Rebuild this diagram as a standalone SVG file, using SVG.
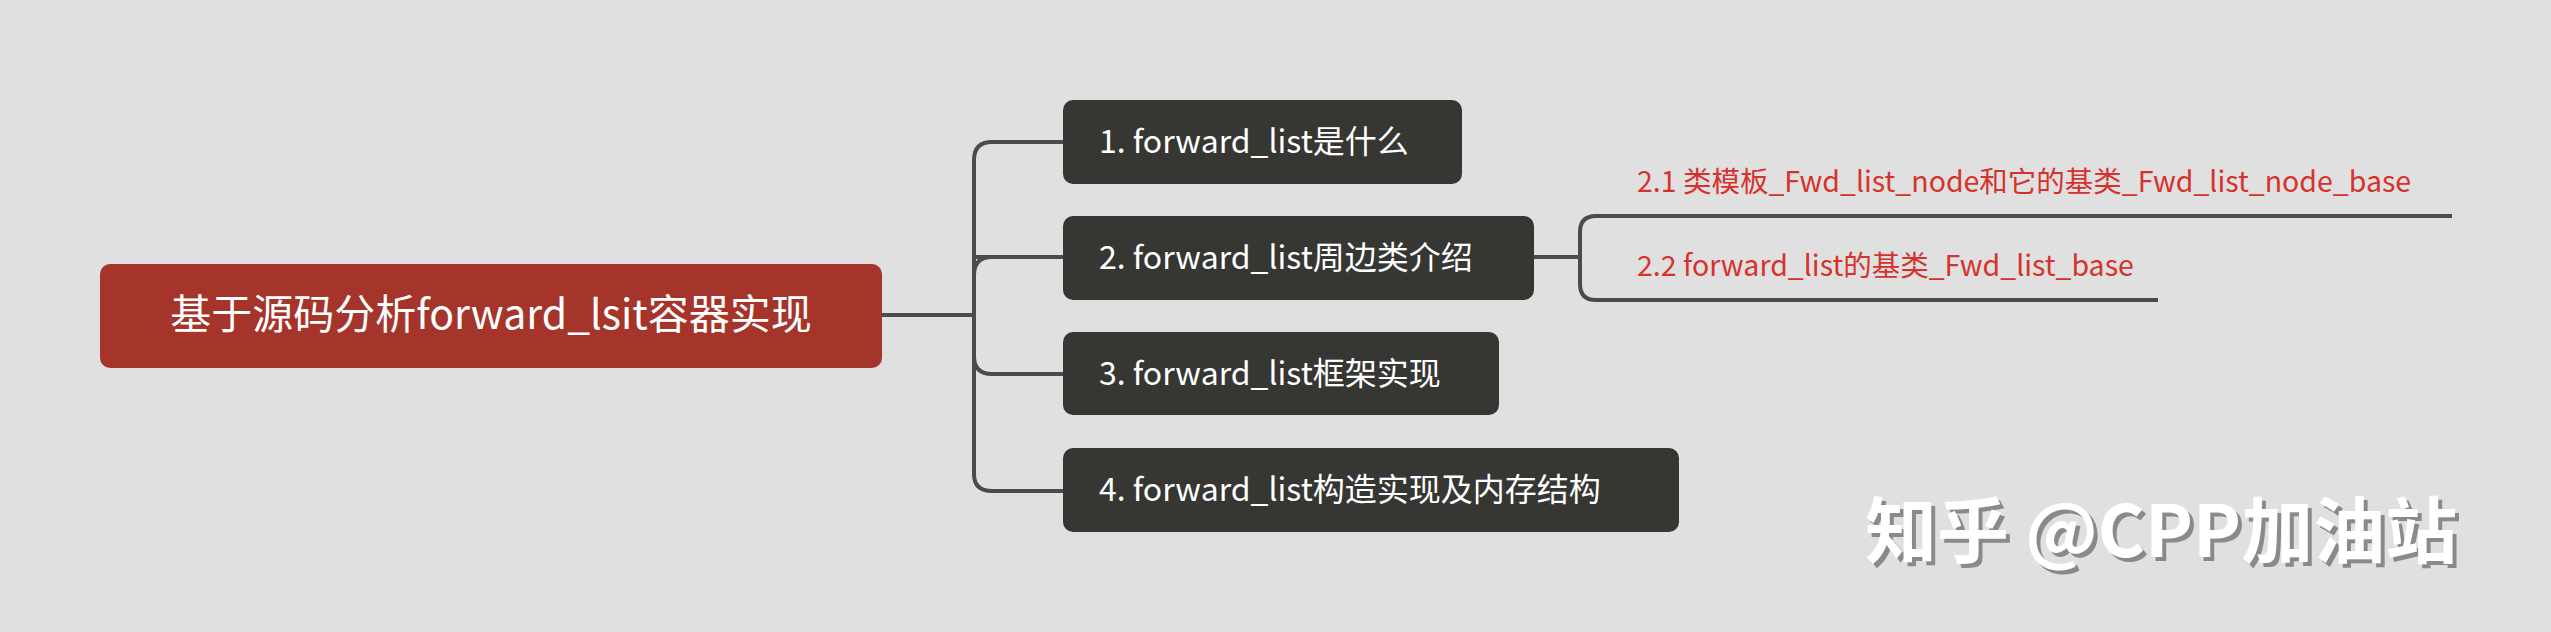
<svg xmlns="http://www.w3.org/2000/svg" width="2551" height="632" viewBox="0 0 2551 632">
<style>
.box{fill:#363632}
.t{font-family:"Microsoft YaHei","Noto Sans CJK SC",sans-serif;fill:#fff}
.c{fill:none;stroke:#4a4b4d;stroke-width:4}
.r{font-family:"Noto Sans CJK SC",sans-serif;fill:#d6322c;font-size:28.5px}
</style>
<rect width="2551" height="632" fill="#e0e0e0"/>
<g id="connectors">
<path class="c" d="M882 315H974M1063 142H992Q974 142 974 160V474Q974 491 992 491H1063M974 257Q974 257 992 257H1063M974 356Q974 374 992 374H1063"/>
<path class="c" d="M974 275Q974 257 992 257"/>
<path class="c" d="M1534 257H1580M2452 216H1596Q1580 216 1580 232V284Q1580 300 1596 300H2158"/>
</g>
<g id="root"><rect x="100" y="264" width="782" height="104" rx="10" fill="#a5352a"/><text class="t" x="491" y="329" font-size="41" text-anchor="middle">基于源码分析forward_lsit容器实现</text></g>
<g id="n1"><rect class="box" x="1063" y="100" width="399" height="84" rx="10"/><text class="t" x="1099" y="153" font-size="32">1. forward_list是什么</text></g>
<g id="n2"><rect class="box" x="1063" y="216" width="471" height="84" rx="10"/><text class="t" x="1099" y="269" font-size="32">2. forward_list周边类介绍</text></g>
<g id="n3"><rect class="box" x="1063" y="332" width="436" height="83" rx="10"/><text class="t" x="1099" y="385" font-size="32">3. forward_list框架实现</text></g>
<g id="n4"><rect class="box" x="1063" y="448" width="616" height="84" rx="10"/><text class="t" x="1099" y="501" font-size="32">4. forward_list构造实现及内存结构</text></g>
<g id="n21"><text class="r" x="1637" y="192">2.1 类模板_Fwd_list_node和它的基类_Fwd_list_node_base</text></g>
<g id="n22"><text class="r" x="1637" y="276">2.2 forward_list的基类_Fwd_list_base</text></g>
<g id="wm" font-family="Noto Sans CJK SC,sans-serif" font-size="72" font-weight="bold">
<text x="1869" y="561" fill="#8a8a8a">知乎 @CPP加油站</text>
<text x="1865" y="557" fill="#fff">知乎 @CPP加油站</text>
</g>
</svg>
